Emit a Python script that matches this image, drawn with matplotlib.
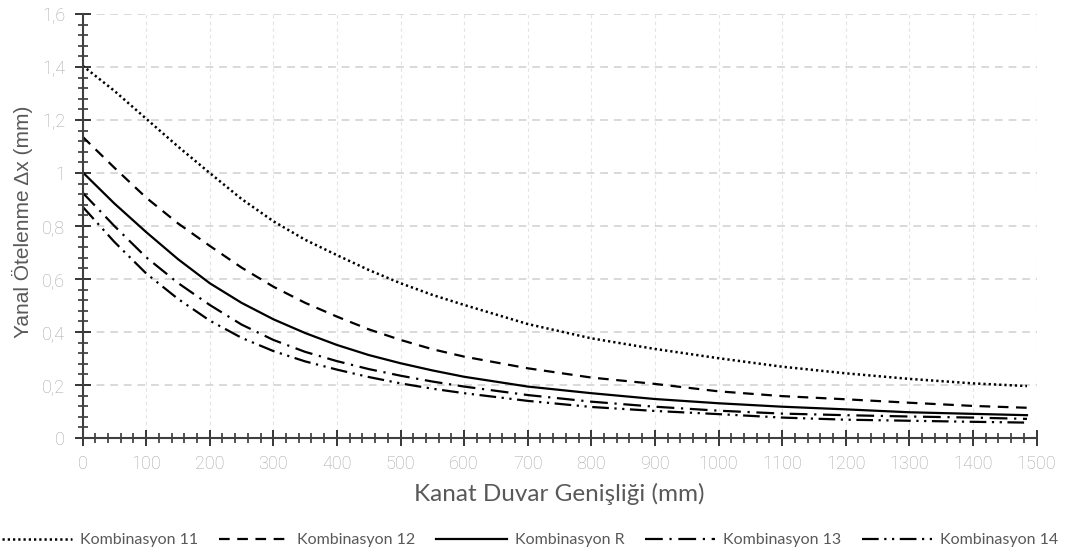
import matplotlib
matplotlib.use("Agg")
import matplotlib.pyplot as plt
from matplotlib.ticker import MultipleLocator, FuncFormatter

# wing wall width (mm)
width = [0, 50, 100, 150, 200, 250, 300, 350, 400, 450, 500, 550, 600,
         700, 800, 900, 1000, 1100, 1200, 1300, 1400, 1485]

# lateral drift (mm) for each load combination
komb_11 = [1.405, 1.31, 1.205, 1.10, 1.0, 0.902, 0.818, 0.748, 0.69, 0.634, 0.584, 0.54, 0.502,
           0.430, 0.376, 0.336, 0.301, 0.269, 0.244, 0.223, 0.206, 0.196]
komb_12 = [1.137, 1.02, 0.907, 0.81, 0.725, 0.643, 0.571, 0.51, 0.458, 0.41, 0.370, 0.335, 0.307,
           0.263, 0.228, 0.204, 0.176, 0.158, 0.146, 0.133, 0.121, 0.114]
komb_r = [1.003, 0.885, 0.777, 0.675, 0.584, 0.51, 0.448, 0.396, 0.351, 0.313, 0.282, 0.255, 0.231,
          0.194, 0.169, 0.147, 0.131, 0.118, 0.108, 0.097, 0.091, 0.086]
komb_13 = [0.926, 0.80, 0.682, 0.585, 0.502, 0.428, 0.370, 0.325, 0.290, 0.260, 0.235, 0.213, 0.194,
           0.162, 0.137, 0.118, 0.103, 0.092, 0.086, 0.081, 0.077, 0.072]
komb_14 = [0.873, 0.74, 0.621, 0.525, 0.443, 0.378, 0.328, 0.289, 0.258, 0.230, 0.206, 0.186, 0.169,
           0.140, 0.117, 0.102, 0.090, 0.077, 0.069, 0.065, 0.061, 0.058]

labels = ["Kombinasyon 11", "Kombinasyon 12", "Kombinasyon R", "Kombinasyon 13", "Kombinasyon 14"]
styles = [(0, (0.9, 1.2)), (0, (4.8, 3.4)), "-", (0, (8, 3, 1, 3)), (0, (7.5, 2.5, 1, 2.5, 1, 2.5))]
widths = [1.8, 1.6, 1.6, 1.6, 1.6]

fig = plt.figure(figsize=(10.89, 5.53), dpi=100)
ax = fig.add_axes([0.0758, 0.208, 0.876, 0.7667])

series = [komb_11, komb_12, komb_r, komb_13, komb_14]
lines = []
for vals, ls, lw, lab in zip(series, styles, widths, labels):
    ln, = ax.plot(width, vals, color="black", lw=lw, linestyle=ls, label=lab,
                  solid_joinstyle="round")
    lines.append(ln)

ax.set_xlim(0, 1500)
ax.set_ylim(0, 1.6)
ax.xaxis.set_major_locator(MultipleLocator(100))
ax.xaxis.set_minor_locator(MultipleLocator(20))
ax.yaxis.set_major_locator(MultipleLocator(0.2))
ax.yaxis.set_minor_locator(MultipleLocator(0.04))
ax.yaxis.set_major_formatter(FuncFormatter(lambda v, p: f"{v:g}".replace(".", ",")))

for s in ["top", "right"]:
    ax.spines[s].set_visible(False)
for s in ["left", "bottom"]:
    ax.spines[s].set_linewidth(1.5)
    ax.spines[s].set_color("#404040")

ax.tick_params(which="major", direction="inout", length=11, width=1.3, color="#262626",
               labelcolor="#a6a6a6", labelsize=13, pad=7)
ax.tick_params(which="minor", direction="inout", length=7, width=1.1, color="#262626")
for t in ax.get_xticklabels() + ax.get_yticklabels():
    t.set_fontfamily("Roboto")
    t.set_fontweight("light")

ax.set_axisbelow(True)
ax.yaxis.grid(True, which="major", linestyle=(0, (4, 3)), color="#d9d9d9", lw=1.4)
ax.xaxis.grid(True, which="major", linestyle=(0, (3, 3)), color="#e3e3e3", lw=0.8)

fig.text(0.514, 1 - 494 / 553, "Kanat Duvar Genişliği (mm)", ha="center", va="center",
         fontsize=17.5, color="#595959", family="Lato")
fig.text(22 / 1089, 1 - 222 / 553, "Yanal Ötelenme Δx (mm)", ha="center", va="center",
         rotation=90, fontsize=15, color="#595959", family="Liberation Sans")

leg = fig.legend(handles=lines, labels=labels, loc="lower center", bbox_to_anchor=(0.487, -0.016),
                 ncol=5, frameon=False, handlelength=4.4, handletextpad=0.5, columnspacing=1.3,
                 prop={"family": "Lato", "size": 11.5})
for t in leg.get_texts():
    t.set_color("#595959")

fig.savefig("out.png", dpi=100)
